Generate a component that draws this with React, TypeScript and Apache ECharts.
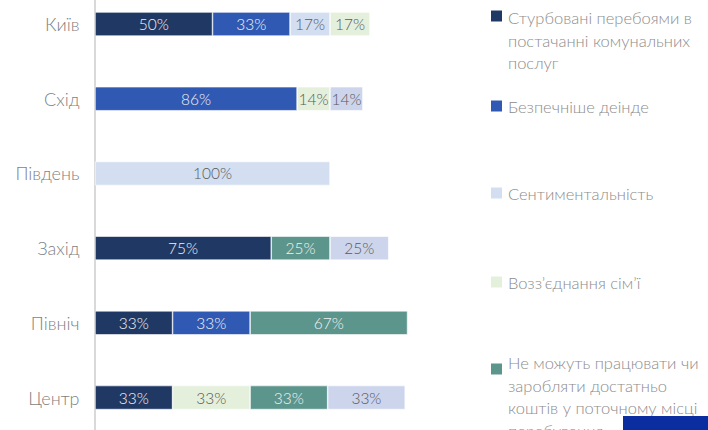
import React, { useEffect, useRef } from "react";
import * as echarts from "echarts";

const categories = ["Київ", "Схід", "Південь", "Захід", "Північ", "Центр"];
const seriesNames = [
  "Стурбовані перебоями в постачанні комунальних послуг",
  "Безпечніше деінде",
  "Сентиментальність",
  "Возз'єднання сім'ї",
  "Не можуть працювати чи заробляти достатньо коштів у поточному місці перебування",
  "Інше",
];
const legendLabels = [
  "Стурбовані перебоями в\nпостачанні комунальних\nпослуг",
  "Безпечніше деінде",
  "Сентиментальність",
  "Возз’єднання сім’ї",
  "Не можуть працювати чи\nзаробляти достатньо\nкоштів у поточному місці\nперебування",
];
const worried = [50, null, null, 75, 33, 33];
const safer = [33, 86, null, null, 33, null];
const sentiment = [17, null, 100, null, null, null];
const reunion = [17, 14, null, null, null, 33];
const cannotWork = [null, null, null, 25, 67, 33];
const other = [null, 14, null, 25, null, 33];

const colors = ["#203864", "#3059B3", "#D3DEF0", "#E4F0DC", "#5B958C", "#CDD5EC"];
const labelColors = ["#F2F2F2", "#F2F2F2", "#595959", "#595959", "#F2F2F2", "#595959"];

const FONT = "Lato, 'Open Sans', sans-serif";

export default function App() {
  const ref = useRef<HTMLDivElement>(null);
  useEffect(() => {
    if (!ref.current) return;
    const chart = echarts.init(ref.current, null, { renderer: "svg" });
    const values = [worried, safer, sentiment, reunion, cannotWork, other];
    const legendIcon = [16, 106, 193, 282, 369];
    const legendText = [18, 107, 194, 283, 363];
    const lh = 22.5;
    const graphic: any[] = [];
    legendLabels.forEach((lab, i) => {
      graphic.push({
        type: "rect",
        shape: { x: 491, y: legendIcon[i] - 5.5, width: 11, height: 11 },
        style: { fill: colors[i] },
        z: 10,
      });
      graphic.push({
        type: "text",
        x: 508,
        y: legendText[i] - lh / 2,
        style: {
          text: lab,
          fill: "#8C8C8C",
          fontFamily: FONT,
          fontWeight: 300,
          fontSize: 16.5,
          lineHeight: lh,
          verticalAlign: "top",
          align: "left",
        },
        z: 10,
      });
    });
    graphic.push({
      type: "rect",
      shape: { x: 623, y: 416, width: 85, height: 20 },
      style: { fill: "#0A2E9F" },
      z: 100,
    });
    chart.setOption({
      animation: false,
      grid: {
        left: 95,
        top: -13.3,
        width: 329,
        height: 448.2,
        containLabel: false,
        outerBoundsMode: "none",
      },
      xAxis: {
        type: "value",
        min: 0,
        max: 140,
        show: false,
      },
      yAxis: {
        type: "category",
        data: categories,
        inverse: true,
        offset: 1.5,
        axisLine: { show: true, lineStyle: { color: "#D9D9D9", width: 2 } },
        axisTick: { show: false },
        axisLabel: {
          color: "#7F7F7F",
          fontSize: 18,
          fontWeight: 300,
          fontFamily: FONT,
          margin: 14,
        },
        splitLine: { show: false },
      },
      legend: { show: false },
      series: values.map((v, i) => ({
        type: "bar",
        name: seriesNames[i],
        stack: "total",
        data: v,
        barWidth: 24,
        itemStyle: { color: colors[i], borderColor: "#FFFFFF", borderWidth: 0.6 },
        label: {
          show: true,
          position: "inside",
          formatter: "{c}%",
          color: labelColors[i],
          fontSize: 15.5,
          fontWeight: 300,
          fontFamily: FONT,
        },
      })),
      graphic,
    });
    return () => chart.dispose();
  }, []);
  return (
    <div
      ref={ref}
      style={{ position: "absolute", left: 0, top: 0, width: 708, height: 430 }}
    />
  );
}
